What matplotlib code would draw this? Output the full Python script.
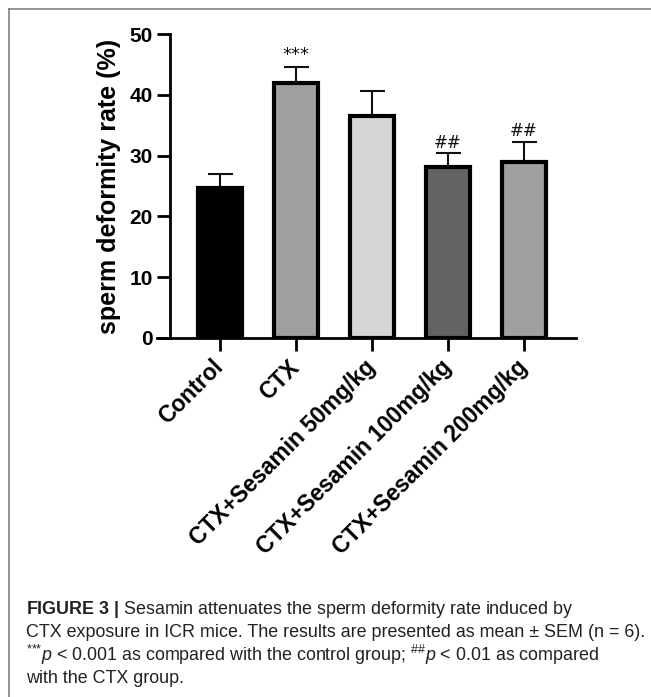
import matplotlib
matplotlib.use('Agg')
import matplotlib.pyplot as plt
from matplotlib import font_manager
from matplotlib.lines import Line2D

# 数据
groups = ["Control", "CTX", "CTX+Sesamin 50mg/kg", "CTX+Sesamin 100mg/kg", "CTX+Sesamin 200mg/kg"]
means = [24.7, 41.9, 36.5, 28.1, 28.9]
sem = [2.3, 2.7, 4.2, 2.3, 3.4]
marks = ["", "***", "", "##", "##"]
colors = ["#000000", "#a0a0a0", "#d6d6d6", "#636363", "#a0a0a0"]

# 字体
names = {f.name for f in font_manager.fontManager.ttflist}
cap_font = 'Liberation Sans Narrow' if 'Liberation Sans Narrow' in names else 'Liberation Sans'
cap_size = 14.5 if cap_font == 'Liberation Sans Narrow' else 12.9
plt.rcParams['font.family'] = ['Liberation Sans', 'Noto Sans CJK SC', 'DejaVu Sans']
plt.rcParams['mathtext.fontset'] = 'custom'
plt.rcParams['mathtext.rm'] = cap_font
plt.rcParams['mathtext.it'] = cap_font + ':italic'
plt.rcParams['mathtext.bf'] = cap_font + ':bold'

fig = plt.figure(figsize=(6.51, 6.97), dpi=100)
ax = fig.add_axes([0.2412, 0.5151, 0.6436, 0.4361])

x = range(len(groups))
ax.errorbar(x, means, yerr=[[0] * len(sem), sem], fmt='none', ecolor='#111111',
            elinewidth=1.5, capsize=9, capthick=1.5, zorder=1)
ax.bar(x, means, width=0.59, color=colors, edgecolor='black', linewidth=3, zorder=2)

for i, m in enumerate(marks):
    if m == '***':
        ax.text(i, means[i] + sem[i] + 2.0, m, ha='center', va='center', fontsize=13,
                family='DejaVu Sans', color='#111111')
    elif m:
        ax.text(i, means[i] + sem[i] + 1.7, m, ha='center', va='center', fontsize=12,
                family='DejaVu Sans', color='#111111')

# 坐标轴
ax.set_xlim(-0.829, 4.684)
ax.set_ylim(0, 50)
ax.spines['top'].set_visible(False)
ax.spines['right'].set_visible(False)
ax.spines['left'].set_position(('data', -0.658))
ax.spines['left'].set_linewidth(2)
ax.spines['bottom'].set_linewidth(2)
ax.set_yticks([0, 10, 20, 30, 40, 50])
ax.tick_params(axis='both', length=9.5, width=2, pad=3)
for lab in ax.get_yticklabels():
    lab.set_fontsize(15)
    lab.set_fontweight('bold')
ax.set_xticks(list(x))
ax.set_xticklabels(groups, rotation=45, ha='right', va='center', rotation_mode='anchor',
                   fontsize=16.5, fontweight='bold')
ax.tick_params(axis='x', pad=9)
ax.set_ylabel('sperm deformity rate (%)', fontsize=18, fontweight='bold', labelpad=6)

# 边框
fig.add_artist(Line2D([9 / 651, 1], [1 - 9 / 697, 1 - 9 / 697], transform=fig.transFigure,
                      color='#808080', lw=1.2))
fig.add_artist(Line2D([9 / 651, 9 / 651], [0, 1 - 9 / 697], transform=fig.transFigure,
                      color='#808080', lw=1.2))

# 图注
caption = [
    r"$\mathbf{FIGURE\ 3\ |}$ Sesamin attenuates the sperm deformity rate induced by",
    "CTX exposure in ICR mice. The results are presented as mean ± SEM (n = 6).",
    r"$^{{*}{*}{*}}\mathit{p}$ < 0.001 as compared with the control group; $^{\#\#}\mathit{p}$ < 0.01 as compared",
    "with the CTX group.",
]
for k, line in enumerate(caption):
    fig.text(26 / 651, 1 - (610 + 22.7 * k) / 697, line, ha='left', va='center',
             fontsize=cap_size, family=cap_font, color='#222222')

plt.savefig('out.png', dpi=100)
